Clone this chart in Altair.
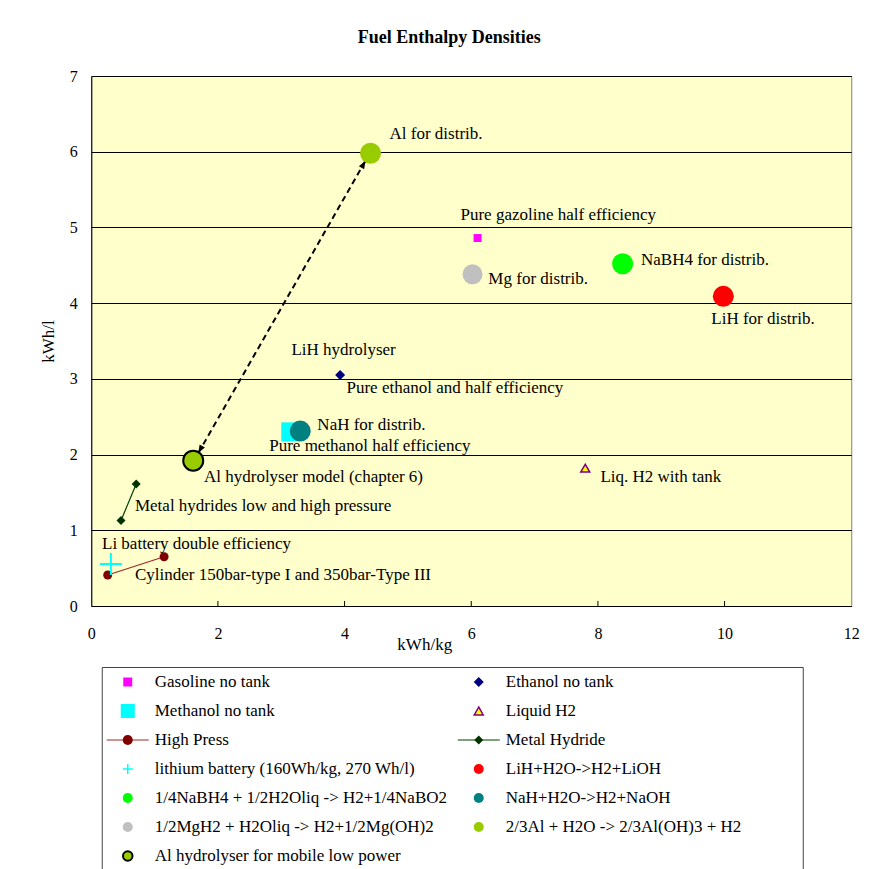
import math
import altair as alt
import pandas as pd

# ---------------- data ----------------
series_names = [
    "Gasoline no tank", "Ethanol no tank", "Methanol no tank", "Liquid H2",
    "High Press", "Metal Hydride", "lithium battery (160Wh/kg, 270 Wh/l)",
    "LiH+H2O->H2+LiOH", "1/4NaBH4 + 1/2H2Oliq -> H2+1/4NaBO2",
    "NaH+H2O->H2+NaOH", "1/2MgH2 + H2Oliq -> H2+1/2Mg(OH)2",
    "2/3Al + H2O -> 2/3Al(OH)3 + H2", "Al hydrolyser for mobile low power",
]
series_x = [[6.10], [3.93], [3.15], [7.80], [0.26, 1.15], [0.47, 0.71], [0.31],
            [9.98], [8.39], [3.30], [6.02], [4.41], [1.61]]
series_y = [[4.86], [3.05], [2.30], [1.82], [0.41, 0.65], [1.13, 1.61], [0.555],
            [4.09], [4.52], [2.31], [4.38], [5.98], [1.92]]

label_texts = [
    "Al for distrib.", "Pure gazoline half efficiency", "NaBH4 for distrib.",
    "Mg for distrib.", "LiH for distrib.", "LiH hydrolyser",
    "Pure ethanol and half efficiency", "NaH for distrib.",
    "Pure methanol half efficiency", "Al hydrolyser model (chapter 6)",
    "Liq. H2 with tank", "Metal hydrides low and high pressure",
    "Li battery double efficiency", "Cylinder 150bar-type I and 350bar-Type III",
]
label_x = [4.71, 5.83, 8.68, 6.27, 9.79, 3.16, 4.03, 3.57, 2.81, 1.78, 8.04, 0.69, 0.17, 0.69]
label_y = [6.23, 5.16, 4.57, 4.32, 3.79, 3.38, 2.88, 2.39, 2.11, 1.70, 1.70, 1.32, 0.82, 0.41]

arrow_start = (1.69, 2.02)   # near "Al hydrolyser"
arrow_end = (4.33, 5.88)     # near "Al for distrib."

x_ticks = [0, 2, 4, 6, 8, 10, 12]
y_ticks = [0, 1, 2, 3, 4, 5, 6, 7]

# ---------------- styles ----------------
PLUS = "M-1,0H1M0,-1V1"
ARROW = "M0,0L0.75,2L-0.75,2Z"
shapes = ["square", "diamond", "square", "triangle-up", "circle", "diamond", PLUS,
          "circle", "circle", "circle", "circle", "circle", "circle"]
fills = ["#FF00FF", "#000080", "#00FFFF", "#FFFF00", "#800000", "#003300", "transparent",
         "#FF0000", "#00FF00", "#008080", "#C0C0C0", "#99CC00", "#99CC00"]
strokes = ["#FF00FF", "#000080", "#00FFFF", "#800080", "#800000", "#003300", "#00FFFF",
           "#FF0000", "#00FF00", "#008080", "#C0C0C0", "#99CC00", "#000000"]
plot_sizes = [64, 100, 361, 81, 81, 81, 484, 441, 441, 441, 400, 441, 400]
legend_sizes = [81, 100, 196, 81, 100, 81, 100, 100, 100, 100, 100, 100, 90]
stroke_widths = [0, 0, 0, 1.5, 0, 0, 2, 0, 0, 0, 0, 0, 2]
legend_stroke_widths = [0, 0, 0, 1.5, 0, 0, 1.5, 0, 0, 0, 0, 0, 2]
line_colors = {4: "#A02828", 5: "#004000"}

W, H = 760, 530
FONT = "Liberation Serif"
TXT = 17

# ---------------- tables ----------------
pts = []
for i, (xs, ys) in enumerate(zip(series_x, series_y)):
    for x, y in zip(xs, ys):
        pts.append(dict(s=i, name=series_names[i], x=x, y=y, shape=shapes[i], fill=fills[i],
                        stroke=strokes[i], size=plot_sizes[i], sw=stroke_widths[i],
                        lc=line_colors.get(i, "none")))
pts = pd.DataFrame(pts)
lines_df = pts[pts["s"].isin(list(line_colors.keys()))]

labels_df = pd.DataFrame(dict(x=label_x, y=label_y, t=label_texts))

arrow_df = pd.DataFrame(dict(x=[arrow_start[0], arrow_end[0]], y=[arrow_start[1], arrow_end[1]], o=[0, 1]))
dxp = (arrow_end[0] - arrow_start[0]) * W / 12
dyp = (arrow_end[1] - arrow_start[1]) * H / 7
ang = math.degrees(math.atan2(dxp, dyp))
heads_df = pd.DataFrame(dict(x=[arrow_start[0], arrow_end[0]], y=[arrow_start[1], arrow_end[1]],
                             a=[ang + 180, ang]))

ticks_df = pd.DataFrame(dict(x=x_ticks[1:-1], y=[0] * (len(x_ticks) - 2),
                             y2=[5 * 7 / H] * (len(x_ticks) - 2)))

leg = pd.DataFrame(dict(
    name=series_names,
    col=[i % 2 for i in range(len(series_names))],
    row=[i // 2 for i in range(len(series_names))],
    shape=shapes, fill=fills, stroke=strokes, size=legend_sizes, sw=legend_stroke_widths,
    lc=[line_colors.get(i, "none") for i in range(len(series_names))],
))
leg_lines = leg[leg["lc"] != "none"]

# ---------------- main plot ----------------
xsc = alt.Scale(domain=[0, 12], nice=False, zero=False)
ysc = alt.Scale(domain=[0, 7], nice=False, zero=False)
X = alt.X("x:Q", scale=xsc, title="kWh/kg",
          axis=alt.Axis(values=x_ticks, grid=False, ticks=False, labelPadding=19,
                        labelFlush=False, titleX=333, titleY=30, titleBaseline="top",
                        domainColor="black"))
Y = alt.Y("y:Q", scale=ysc, title="kWh/l",
          axis=alt.Axis(values=y_ticks, grid=True, gridColor="black", gridOpacity=1,
                        ticks=False, labelPadding=14, titlePadding=12, domainColor="black"))

inner_ticks = alt.Chart(ticks_df).mark_rule(color="black", strokeWidth=1).encode(
    x=X, y=Y, y2="y2:Q")

series_lines = alt.Chart(lines_df).mark_line(strokeWidth=1.2).encode(
    x=X, y=Y, detail="s:N", color=alt.Color("lc:N", scale=None))

points = alt.Chart(pts).mark_point(filled=True, opacity=1).encode(
    x=X, y=Y,
    shape=alt.Shape("shape:N", scale=None),
    fill=alt.Fill("fill:N", scale=None),
    stroke=alt.Stroke("stroke:N", scale=None),
    size=alt.Size("size:Q", scale=None),
    strokeWidth=alt.StrokeWidth("sw:Q", scale=None),
    order=alt.Order("s:Q"),
)

arrow_line = alt.Chart(arrow_df).mark_line(color="black", strokeWidth=2, strokeDash=[6, 4]).encode(
    x=X, y=Y, order="o:Q")
arrow_heads = alt.Chart(heads_df).mark_point(shape=ARROW, filled=True, color="black",
                                             opacity=1, size=64).encode(
    x=X, y=Y, angle=alt.Angle("a:Q", scale=None))

texts = alt.Chart(labels_df).mark_text(align="left", baseline="middle", font=FONT,
                                       fontSize=TXT, color="black").encode(
    x=X, y=Y, text="t:N")

main = alt.layer(inner_ticks, series_lines, arrow_line, arrow_heads, points, texts).properties(
    width=W, height=H, view=alt.ViewBackground(fill="#FFFFCC", stroke="#808080"))

# ---------------- legend panel ----------------
LX = alt.X("col:Q", scale=alt.Scale(domain=[0, 1], range=[26, 377]), axis=None)
# the legend's y axis is kept blank; it sits on the right and only widens the panel's
# bounds so that the centred legend box lands where the original one is
LY = alt.Y("row:Q", scale=alt.Scale(domain=[0, 6], range=[15, 189]), title="legend",
           axis=alt.Axis(orient="right", labels=False, ticks=False, domain=False, grid=False,
                         titleColor="white", titleFontSize=16, titlePadding=30))

leg_rules = alt.Chart(leg_lines).mark_rule(xOffset=-21, x2Offset=21, strokeWidth=1.2).encode(
    x=LX, x2="col:Q", y=LY, color=alt.Color("lc:N", scale=None))
leg_syms = alt.Chart(leg).mark_point(filled=True, opacity=1).encode(
    x=LX, y=LY,
    shape=alt.Shape("shape:N", scale=None),
    fill=alt.Fill("fill:N", scale=None),
    stroke=alt.Stroke("stroke:N", scale=None),
    size=alt.Size("size:Q", scale=None),
    strokeWidth=alt.StrokeWidth("sw:Q", scale=None),
)
leg_text = alt.Chart(leg).mark_text(align="left", baseline="middle", dx=27, font=FONT,
                                    fontSize=TXT, color="black").encode(
    x=LX, y=LY, text="name:N")

legend = alt.layer(leg_rules, leg_syms, leg_text).properties(
    width=701, height=215, view=alt.ViewBackground(fill="white", stroke="#444444"))

chart = alt.vconcat(main, legend, spacing=13, center=True).properties(
    title=alt.TitleParams("Fuel Enthalpy Densities", font=FONT, fontSize=18, fontWeight="bold",
                          color="black", anchor="middle", offset=21),
    padding={"left": 30, "top": 20, "right": 5, "bottom": 0},
    background="white",
).configure_axis(
    labelFont=FONT, titleFont=FONT, labelFontSize=16, titleFontSize=17,
    labelColor="black", titleColor="black", titleFontWeight="normal",
).configure_text(font=FONT)

chart.save("out.html", embed_options={"renderer": "svg", "actions": False})
